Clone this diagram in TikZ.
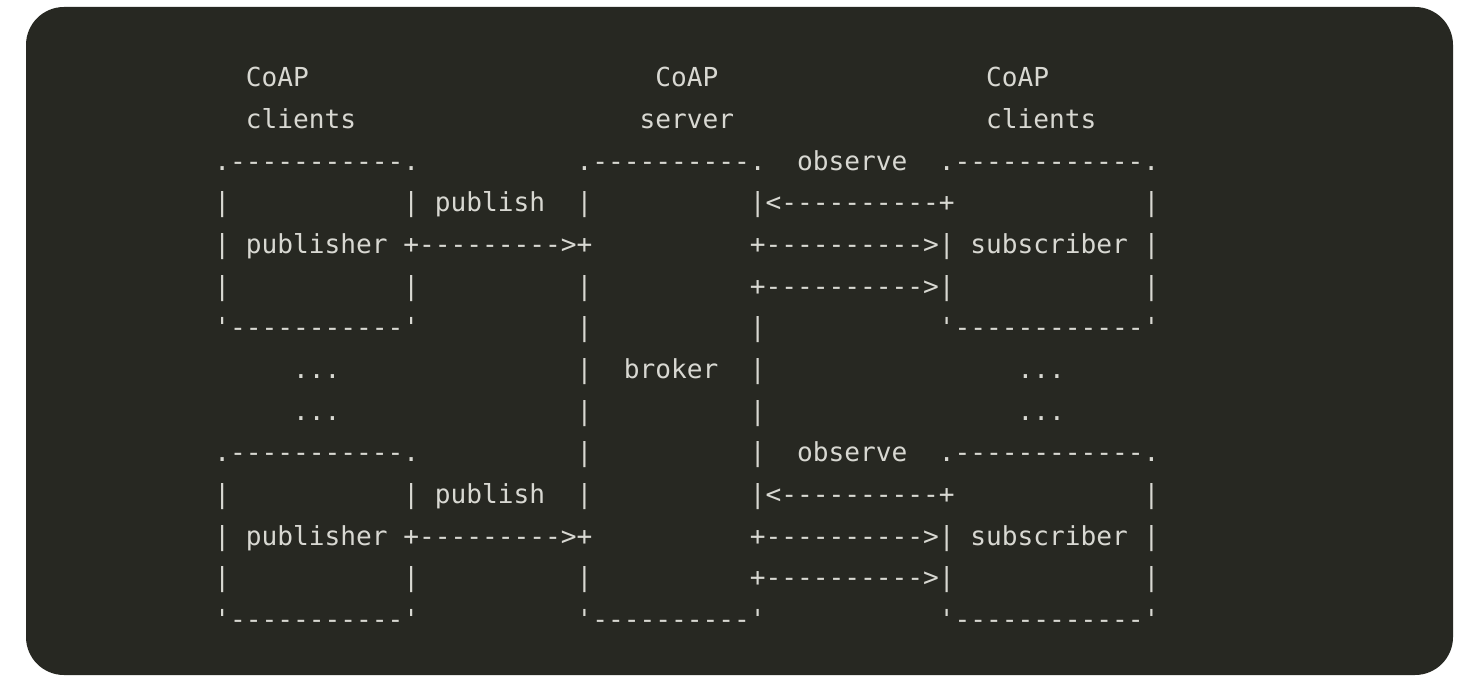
\documentclass[tikz,border=0pt]{standalone}
\usepackage{fontspec}
\setmonofont{DejaVu Sans Mono}
\definecolor{codebg}{HTML}{272822}
\definecolor{codefg}{HTML}{D8D8D2}
% blank columns in the monospace rows
\newcommand\gap[1]{\hspace*{#1\fontcharwd\font`x}}
\tikzset{
  asciirow/.style={anchor=base west, inner sep=0pt, text=codefg,
    font=\ttfamily\fontsize{26.16}{30}\selectfont},
}
\begin{document}
\begin{tikzpicture}[x=1pt,y=-1pt]
  \useasboundingbox (0,0) rectangle (1469,676);
  \fill[white] (0,0) rectangle (1469,676);
  \fill[codebg, rounded corners=38pt] (26,7) rectangle (1453,675);

  % header
  \node[asciirow] (r1) at (214.1, 87.00) {\gap{2}CoAP\gap{22}CoAP\gap{17}CoAP};
  \node[asciirow] (r2) at (214.1,128.65) {\gap{2}clients\gap{18}server\gap{16}clients};
  % first publisher / subscriber
  \node[asciirow] (r3) at (214.1,170.30) {.-----------.\gap{10}.----------.\gap{2}observe\gap{2}.------------.};
  \node[asciirow] (r4) at (214.1,211.95) {|\gap{11}| publish\gap{2}|\gap{10}|<----------+\gap{12}|};
  \node[asciirow] (r5) at (214.1,253.60) {| publisher +--------->+\gap{10}+---------->| subscriber |};
  \node[asciirow] (r6) at (214.1,295.25) {|\gap{11}|\gap{10}|\gap{10}+---------->|\gap{12}|};
  \node[asciirow] (r7) at (214.1,336.90) {'-----------'\gap{10}|\gap{10}|\gap{11}'------------'};
  % broker
  \node[asciirow] (r8) at (214.1,378.55) {\gap{5}...\gap{15}|\gap{2}broker\gap{2}|\gap{16}...};
  \node[asciirow] (r9) at (214.1,420.20) {\gap{5}...\gap{15}|\gap{10}|\gap{16}...};
  % second publisher / subscriber
  \node[asciirow] (r10) at (214.1,461.85) {.-----------.\gap{10}|\gap{10}|\gap{2}observe\gap{2}.------------.};
  \node[asciirow] (r11) at (214.1,503.50) {|\gap{11}| publish\gap{2}|\gap{10}|<----------+\gap{12}|};
  \node[asciirow] (r12) at (214.1,545.15) {| publisher +--------->+\gap{10}+---------->| subscriber |};
  \node[asciirow] (r13) at (214.1,586.80) {|\gap{11}|\gap{10}|\gap{10}+---------->|\gap{12}|};
  \node[asciirow] (r14) at (214.1,628.45) {'-----------'\gap{10}'----------'\gap{11}'------------'};
\end{tikzpicture}
\end{document}
